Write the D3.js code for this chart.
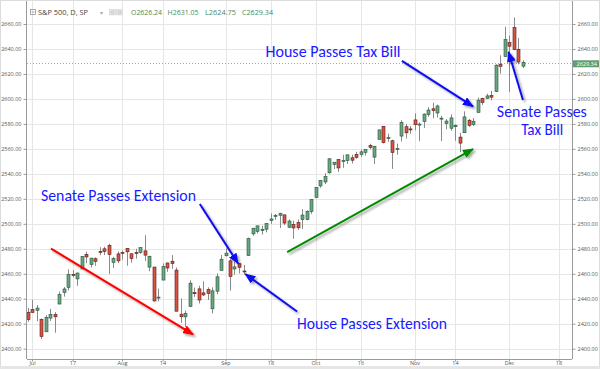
<!DOCTYPE html>
<html>
<head>
<meta charset="utf-8">
<script src="https://cdnjs.cloudflare.com/ajax/libs/d3/7.8.5/d3.min.js"></script>
<style>
  body { margin: 0; background: #fff; }
  svg { display: block; }
</style>
</head>
<body>
<div id="chart"></div>
<script>
// daily candles, S&P 500, Jun 30 - Dec 6 2017
const dates = ["2017-06-30","2017-07-03","2017-07-05","2017-07-06","2017-07-07","2017-07-10","2017-07-11","2017-07-12","2017-07-13","2017-07-14",
  "2017-07-17","2017-07-18","2017-07-19","2017-07-20","2017-07-21","2017-07-24","2017-07-25","2017-07-26","2017-07-27","2017-07-28",
  "2017-07-31","2017-08-01","2017-08-02","2017-08-03","2017-08-04","2017-08-07","2017-08-08","2017-08-09","2017-08-10","2017-08-11",
  "2017-08-14","2017-08-15","2017-08-16","2017-08-17","2017-08-18","2017-08-21","2017-08-22","2017-08-23","2017-08-24","2017-08-25",
  "2017-08-28","2017-08-29","2017-08-30","2017-08-31","2017-09-01","2017-09-05","2017-09-06","2017-09-07","2017-09-08","2017-09-11",
  "2017-09-12","2017-09-13","2017-09-14","2017-09-15","2017-09-18","2017-09-19","2017-09-20","2017-09-21","2017-09-22","2017-09-25",
  "2017-09-26","2017-09-27","2017-09-28","2017-09-29","2017-10-02","2017-10-03","2017-10-04","2017-10-05","2017-10-06","2017-10-09",
  "2017-10-10","2017-10-11","2017-10-12","2017-10-13","2017-10-16","2017-10-17","2017-10-18","2017-10-19","2017-10-20","2017-10-23",
  "2017-10-24","2017-10-25","2017-10-26","2017-10-27","2017-10-30","2017-10-31","2017-11-01","2017-11-02","2017-11-03","2017-11-06",
  "2017-11-07","2017-11-08","2017-11-09","2017-11-10","2017-11-13","2017-11-14","2017-11-15","2017-11-16","2017-11-17","2017-11-20",
  "2017-11-21","2017-11-22","2017-11-24","2017-11-27","2017-11-28","2017-11-29","2017-11-30","2017-12-01","2017-12-04","2017-12-05",
  "2017-12-06"];
const opens = [2429.20,2431.39,2430.78,2423.44,2413.52,2424.51,2427.35,2435.75,2444.99,2449.16,
  2459.50,2455.88,2463.85,2475.56,2467.40,2472.04,2477.88,2479.97,2482.76,2469.12,
  2475.94,2477.10,2480.38,2476.03,2476.88,2477.14,2478.35,2465.35,2465.38,2441.04,
  2454.96,2468.66,2470.04,2462.95,2427.64,2425.50,2433.75,2444.88,2447.91,2444.72,
  2447.35,2431.94,2446.06,2462.65,2474.42,2470.35,2463.83,2468.06,2462.25,2474.52,
  2491.94,2493.89,2494.56,2495.67,2502.51,2506.29,2506.84,2507.16,2497.26,2499.39,
  2501.04,2503.30,2503.41,2509.96,2521.20,2530.34,2533.48,2540.86,2547.44,2551.39,
  2549.99,2550.62,2552.88,2555.66,2555.57,2557.17,2562.87,2553.39,2567.56,2578.08,
  2568.66,2566.52,2560.08,2570.26,2577.75,2575.99,2583.21,2579.46,2581.93,2587.47,
  2592.11,2588.71,2584.00,2580.18,2576.53,2577.75,2569.45,2572.95,2582.94,2579.49,
  2589.17,2600.31,2600.42,2602.66,2605.94,2627.82,2633.93,2645.10,2657.19,2639.78,
  2626.24];
const highs = [2432.71,2439.17,2434.90,2424.28,2426.92,2432.00,2429.30,2445.76,2449.32,2463.54,
  2462.82,2460.92,2473.83,2477.62,2472.54,2473.10,2481.24,2481.69,2484.04,2473.53,
  2477.96,2478.51,2480.38,2476.03,2480.00,2480.95,2490.87,2474.41,2465.38,2448.09,
  2468.22,2468.90,2474.93,2465.02,2440.27,2430.58,2454.77,2448.91,2450.39,2453.96,
  2449.12,2449.19,2460.31,2475.01,2480.38,2471.97,2469.64,2468.62,2467.11,2488.95,
  2496.77,2498.37,2498.43,2500.23,2508.32,2507.84,2508.85,2507.16,2503.47,2502.54,
  2503.51,2511.75,2510.81,2519.44,2529.23,2535.13,2540.53,2552.51,2549.41,2551.82,
  2555.23,2555.24,2555.33,2557.65,2559.47,2559.71,2564.11,2562.36,2575.44,2578.29,
  2572.18,2567.40,2564.24,2582.98,2580.03,2578.29,2588.40,2581.11,2588.42,2593.38,
  2597.02,2595.47,2586.50,2583.81,2587.66,2579.66,2572.84,2590.09,2583.96,2584.64,
  2601.19,2600.94,2604.21,2606.41,2627.69,2634.89,2657.74,2650.62,2665.19,2648.72,
  2631.05];
const lows = [2421.65,2428.69,2422.05,2407.70,2413.52,2422.27,2412.79,2435.75,2441.69,2446.69,
  2457.16,2450.34,2463.85,2468.43,2465.06,2466.32,2474.91,2474.94,2459.93,2464.66,
  2468.53,2471.14,2466.48,2468.85,2472.08,2475.88,2470.32,2462.08,2437.75,2437.85,
  2454.96,2461.61,2463.86,2430.01,2420.69,2417.35,2433.67,2441.42,2436.19,2442.22,
  2439.03,2428.20,2443.77,2462.65,2473.85,2446.55,2459.20,2460.29,2459.40,2474.52,
  2490.37,2492.14,2491.35,2493.16,2499.92,2503.19,2496.67,2499.00,2496.54,2488.03,
  2495.12,2495.91,2502.93,2507.99,2520.40,2528.85,2531.80,2540.02,2543.79,2541.60,
  2544.86,2547.95,2548.31,2552.09,2553.59,2554.69,2559.67,2547.92,2567.56,2564.33,
  2565.58,2544.00,2555.35,2565.94,2568.25,2572.15,2574.92,2566.17,2576.77,2585.66,
  2584.35,2585.02,2566.33,2575.57,2574.48,2566.56,2557.45,2572.95,2577.62,2578.24,
  2589.17,2595.23,2600.42,2598.87,2605.44,2620.32,2633.93,2605.52,2639.03,2627.73,
  2624.75];
const closes = [2423.41,2429.01,2432.54,2409.75,2425.18,2427.43,2425.53,2443.25,2447.83,2459.27,
  2459.14,2460.61,2473.83,2473.45,2472.54,2469.91,2477.13,2477.83,2475.42,2472.10,
  2470.30,2476.35,2477.57,2472.16,2476.83,2480.91,2474.92,2474.02,2438.21,2441.32,
  2465.84,2464.61,2468.11,2430.01,2425.55,2428.37,2452.51,2444.04,2438.97,2443.05,
  2444.24,2446.30,2457.59,2471.65,2476.55,2457.85,2465.54,2465.10,2461.43,2488.11,
  2496.48,2498.37,2495.62,2500.23,2503.87,2506.65,2508.24,2500.60,2502.22,2496.66,
  2496.84,2507.04,2510.06,2519.36,2529.12,2534.58,2537.74,2552.07,2549.33,2544.73,
  2550.64,2555.24,2550.93,2553.17,2557.64,2559.36,2561.26,2562.10,2575.21,2564.98,
  2569.13,2557.15,2560.40,2581.07,2572.83,2575.26,2579.36,2579.85,2587.84,2591.13,
  2590.64,2594.38,2584.62,2582.30,2584.84,2578.87,2564.62,2585.64,2578.85,2582.14,
  2599.03,2597.08,2602.42,2601.42,2627.04,2626.07,2647.58,2642.22,2639.44,2629.57,
  2629.34];

const priceTicks = d3.range(2400, 2661, 20);
const timeTickDates = ["2017-07-03","2017-07-17","2017-08-01","2017-08-14","2017-09-01","2017-09-18",
  "2017-10-02","2017-10-16","2017-11-01","2017-11-14","2017-12-01","2017-12-18"];
const timeTickLabels = ["Jul","17","Aug","14","Sep","18","Oct","16","Nov","14","Dec","18"];
const headerTitle = "S&P 500, D, SP";
const headerLabels = ["O2626.24", "H2631.05", "L2624.75", "C2629.34"];
const lastPrice = 2629.34;

// annotations, anchored in (trading day index, price)
const notes = [
  { text: "Senate Passes Extension", i: 3.0, p: 2518.2, w: 155 },
  { text: "House Passes Extension", i: 59.9, p: 2415.6, w: 150 },
  { text: "House Passes Tax Bill", i: 52.9, p: 2633.6, w: 135 },
  { text: "Senate Passes", i: 104.3, p: 2585.5, w: 90 },
  { text: "Tax Bill", i: 109.7, p: 2571.2, w: 42 }
];
const arrows = [
  { from: [5.22, 2480.2], to: [36.8, 2411.4], color: "#ff0000" },
  { from: [57.7, 2477.4], to: [99.0, 2559.9], color: "#008a00" },
  { from: [83.2, 2630.4], to: [99.0, 2594.0], color: "#1010f0" },
  { from: [110.1, 2599.1], to: [106.9, 2637.6], color: "#1010f0" },
  { from: [38.3, 2515.9], to: [46.8, 2468.2], color: "#1010f0" },
  { from: [59.9, 2429.8], to: [48.4, 2459.8], color: "#1010f0" }
];

const width = 600, height = 369;
const plot = { left: 27, right: 572, top: 0, bottom: 359 };
const upFill = "#6ba583", downFill = "#d75442";
const upLine = "#225437", downLine = "#5b1a13";

const svg = d3.select("#chart").append("svg")
  .attr("width", width).attr("height", height)
  .style("font-family", "'Open Sans', Arial, sans-serif");

const defs = svg.append("defs");
defs.append("clipPath").attr("id", "clip").append("rect")
  .attr("x", plot.left).attr("y", plot.top)
  .attr("width", plot.right - plot.left).attr("height", plot.bottom - plot.top);
defs.append("filter").attr("id", "shadow").attr("x", "-20%").attr("y", "-20%").attr("width", "150%").attr("height", "150%")
  .append("feDropShadow").attr("dx", 2).attr("dy", 2).attr("stdDeviation", 1.2)
  .attr("flood-color", "#000").attr("flood-opacity", 0.35);

const candles = dates.map((d, i) => ({ i, date: d, o: opens[i], h: highs[i], l: lows[i], c: closes[i] }));

// x: trading day index -> px (Jun 30 = 0)
const x = d3.scaleLinear().domain([0, dates.length - 1]).range([27.5, 522.5]);
const y = d3.scaleLinear().domain([2400, 2660]).range([348.7, 24]);

const parse = d3.timeParse("%Y-%m-%d");
function dayIndex(s) {
  const k = dates.indexOf(s);
  if (k >= 0) return k;
  const last = parse(dates[dates.length - 1]);
  const extra = d3.timeDay.range(d3.timeDay.offset(last, 1), d3.timeDay.offset(parse(s), 1))
    .filter(d => d.getDay() !== 0 && d.getDay() !== 6).length;
  return dates.length - 1 + extra;
}
const tickIdx = timeTickDates.map(dayIndex);

// grid
const grid = svg.append("g");
grid.selectAll(".vg").data(tickIdx).enter().append("line")
  .attr("x1", d => Math.round(x(d)) + 0.5).attr("x2", d => Math.round(x(d)) + 0.5)
  .attr("y1", plot.top).attr("y2", plot.bottom)
  .attr("stroke", "#e6e6e6");
grid.selectAll(".hg").data(priceTicks).enter().append("line")
  .attr("x1", plot.left).attr("x2", plot.right)
  .attr("y1", d => Math.round(y(d)) + 0.5).attr("y2", d => Math.round(y(d)) + 0.5)
  .attr("stroke", "#e6e6e6");

// last price line
svg.append("line")
  .attr("x1", plot.left).attr("x2", plot.right)
  .attr("y1", Math.round(y(lastPrice)) + 1.5).attr("y2", Math.round(y(lastPrice)) + 1.5)
  .attr("stroke", upFill).attr("stroke-dasharray", "1,2").attr("stroke-width", 0.8);

// candles
const cg = svg.append("g").attr("clip-path", "url(#clip)");
const candle = cg.selectAll(".candle").data(candles).enter().append("g");
candle.append("line")
  .attr("x1", d => Math.round(x(d.i)) + 0.5).attr("x2", d => Math.round(x(d.i)) + 0.5)
  .attr("y1", d => y(d.h)).attr("y2", d => y(d.l))
  .attr("stroke", "#8a8a8c").attr("stroke-width", 1);
candle.append("rect")
  .attr("x", d => Math.round(x(d.i)) - 1)
  .attr("width", 3)
  .attr("y", d => y(Math.max(d.o, d.c)))
  .attr("height", d => Math.max(1, y(Math.min(d.o, d.c)) - y(Math.max(d.o, d.c))))
  .attr("fill", d => d.c >= d.o ? upFill : downFill)
  .attr("stroke", d => d.c >= d.o ? upLine : downLine)
  .attr("stroke-width", 0.6);

// axes
function styleAxis(g) {
  g.selectAll("path.domain").attr("stroke", "#9a9a9a");
  g.selectAll(".tick line").attr("stroke", "#9a9a9a");
  g.selectAll("text").attr("fill", "#555").style("font-size", "5.5px")
    .style("font-family", "'Open Sans', Arial, sans-serif");
}
svg.append("g").attr("transform", `translate(${plot.right + 0.5},0)`)
  .call(d3.axisRight(y).tickValues(priceTicks).tickFormat(d3.format(".2f")).tickSize(3).tickPadding(2).tickSizeOuter(0))
  .call(styleAxis)
  .call(g => g.select("path.domain").attr("d", `M0,${plot.top}V${plot.bottom}`));
svg.append("g").attr("transform", `translate(${plot.left - 0.5},0)`)
  .call(d3.axisLeft(y).tickValues(priceTicks).tickFormat(d3.format(".2f")).tickSize(3).tickPadding(2).tickSizeOuter(0))
  .call(styleAxis)
  .call(g => g.select("path.domain").attr("d", `M0,${plot.top}V${plot.bottom}`));
svg.append("g").attr("transform", `translate(0,${plot.bottom + 0.5})`)
  .call(d3.axisBottom(x).tickValues(tickIdx).tickFormat((d, k) => timeTickLabels[k]).tickSize(2).tickPadding(0).tickSizeOuter(0))
  .call(styleAxis)
  .call(g => g.select("path.domain").attr("d", `M${plot.left},0H${plot.right}`));

// last price tag
const tagY = y(lastPrice) + 1.5;
svg.append("rect").attr("x", plot.right + 1).attr("y", tagY - 3.5)
  .attr("width", width - plot.right - 1).attr("height", 7).attr("fill", "#5f9f72");
svg.append("text").attr("x", plot.right + 4.5).attr("y", tagY + 2)
  .attr("fill", "#fff").style("font-size", "5.5px").text(d3.format(".2f")(lastPrice));

// header
const hdr = svg.append("g");
hdr.append("rect").attr("x", 30.5).attr("y", 9.5).attr("width", 5).attr("height", 5)
  .attr("fill", "none").attr("stroke", "#888").attr("stroke-width", 0.7);
hdr.append("line").attr("x1", 31.5).attr("x2", 34.5).attr("y1", 12).attr("y2", 12)
  .attr("stroke", "#888").attr("stroke-width", 0.7);
hdr.append("text").attr("x", 38).attr("y", 15).attr("fill", "#444")
  .attr("textLength", 50).attr("lengthAdjust", "spacingAndGlyphs")
  .style("font-size", "8px").text(headerTitle);
hdr.append("text").attr("x", 100).attr("y", 14.5).attr("fill", "#aaa")
  .style("font-size", "6px").text("▾");
[109.5, 116.5].forEach(px => {
  hdr.append("rect").attr("x", px).attr("y", 9.5).attr("width", 6).attr("height", 5.5)
    .attr("fill", "#e4e4e4").attr("stroke", "#d0d0d0").attr("stroke-width", 0.5);
  hdr.append("circle").attr("cx", px + 3).attr("cy", 12.25).attr("r", 1.3)
    .attr("fill", "none").attr("stroke", "#bbb").attr("stroke-width", 0.6);
});
const hx = [131, 167.5, 205, 242];
headerLabels.forEach((t, k) => {
  hdr.append("text").attr("x", hx[k]).attr("y", 15).attr("fill", "#4a8a5c")
    .attr("textLength", 31).attr("lengthAdjust", "spacingAndGlyphs")
    .style("font-size", "8px").text(t);
});

// arrows
const arrowLayer = svg.append("g").attr("filter", "url(#shadow)");
arrows.forEach((a, k) => {
  defs.append("marker").attr("id", "ah" + k)
    .attr("markerUnits", "userSpaceOnUse").attr("markerWidth", 11).attr("markerHeight", 9)
    .attr("refX", 10).attr("refY", 4.5).attr("orient", "auto")
    .append("path").attr("d", "M0,0L11,4.5L0,9Z").attr("fill", a.color);
  arrowLayer.append("line")
    .attr("x1", x(a.from[0])).attr("y1", y(a.from[1]))
    .attr("x2", x(a.to[0])).attr("y2", y(a.to[1]))
    .attr("stroke", a.color).attr("stroke-width", 2)
    .attr("marker-end", `url(#ah${k})`);
});

// annotation text
svg.selectAll(".note").data(notes).enter().append("text")
  .attr("x", d => x(d.i)).attr("y", d => y(d.p))
  .attr("fill", "#1a1aff")
  .attr("textLength", d => d.w).attr("lengthAdjust", "spacingAndGlyphs")
  .style("font-family", "Carlito, Lato, 'Open Sans', sans-serif")
  .style("font-size", "17px")
  .text(d => d.text);

// outer frame
svg.append("rect").attr("x", 0.5).attr("y", 0.5).attr("width", width - 1).attr("height", height - 1)
  .attr("fill", "none").attr("stroke", "#dcdcdc");
svg.append("rect").attr("x", 0).attr("y", height - 3).attr("width", width).attr("height", 3)
  .attr("fill", "#e6e6e6");
</script>
</body>
</html>
